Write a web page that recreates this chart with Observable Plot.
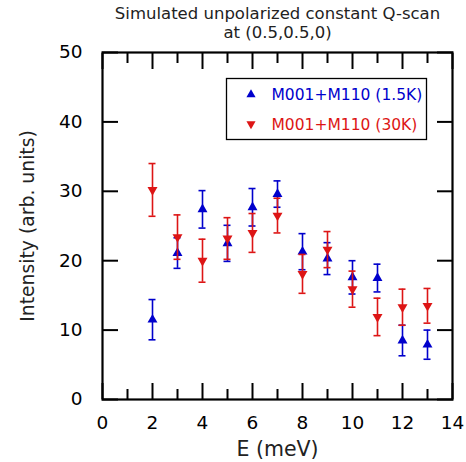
<!DOCTYPE html>
<html>
<head>
<meta charset="utf-8">
<script src="https://cdn.jsdelivr.net/npm/d3@7"></script>
<script src="https://cdn.jsdelivr.net/npm/@observablehq/plot@0.6"></script>
<style>
  html, body { margin: 0; padding: 0; background: #fff; }
  #chart svg { display: block; }
</style>
</head>
<body>
<div id="chart"></div>
<script>
// ---- data ----
const energy = [2, 3, 4, 5, 6, 7, 8, 9, 10, 11, 12, 13];
const seriesNames = ["M001+M110 (1.5K)", "M001+M110 (30K)"];
const intensity15K = [11.5, 21.1, 27.4, 22.5, 27.7, 29.6, 21.3, 20.3, 17.6, 17.5, 8.5, 7.9];
const error15K     = [2.9, 2.2, 2.7, 2.6, 2.7, 1.9, 2.6, 2.3, 2.4, 2.0, 2.2, 2.1];
const intensity30K = [30.2, 23.4, 20.0, 23.2, 24.0, 26.5, 18.1, 21.6, 15.9, 11.9, 13.3, 13.5];
const error30K     = [3.8, 3.2, 3.1, 3.0, 2.8, 2.5, 2.8, 2.6, 2.6, 2.7, 2.6, 2.5];
const xMajorTicks = [0, 2, 4, 6, 8, 10, 12, 14];
const xMinorTicks = [1, 3, 5, 7, 9, 11, 13];
const yTicks = [0, 10, 20, 30, 40, 50];
const titleLines = ["Simulated unpolarized constant Q-scan", "at (0.5,0.5,0)"];
const xLabel = "E (meV)";
const yLabel = "Intensity (arb. units)";
const colors = ["#0000cc", "#dd1515"];

// ---- table built from arrays ----
const rows = [
  ...energy.map((E, i) => ({E, v: intensity15K[i], e: error15K[i], series: seriesNames[0]})),
  ...energy.map((E, i) => ({E, v: intensity30K[i], e: error30K[i], series: seriesNames[1]}))
];
const capHalf = 0.14;
const caps = rows.flatMap(d => [
  {series: d.series, x1: d.E - capHalf, x2: d.E + capHalf, y: d.v + d.e},
  {series: d.series, x1: d.E - capHalf, x2: d.E + capHalf, y: d.v - d.e}
]);

const seriesMarks = (s, rotate) => [
  Plot.ruleX(rows.filter(d => d.series === s), {x: "E", y1: d => d.v - d.e, y2: d => d.v + d.e, stroke: "series", strokeWidth: 1.6}),
  Plot.ruleY(caps.filter(d => d.series === s), {y: "y", x1: "x1", x2: "x2", stroke: "series", strokeWidth: 1.6}),
  Plot.dot(rows.filter(d => d.series === s), {x: "E", y: "v", symbol: "triangle", r: 3.7, fill: "series", stroke: null, rotate})
];

const blank = () => "";

const chart = Plot.plot({
  width: 466,
  height: 462,
  marginLeft: 102,
  marginRight: 14,
  marginTop: 52,
  marginBottom: 63,
  style: {fontFamily: "DejaVu Sans, sans-serif", fontSize: "18.5px", color: "black", background: "white"},
  x: {domain: [0, 14], label: null},
  y: {domain: [0, 50], label: null},
  color: {domain: seriesNames, range: colors},
  marks: [
    // axes (inward ticks)
    Plot.axisX(xMajorTicks, {anchor: "bottom", tickSize: -16, tickPadding: 32, strokeWidth: 2, fontSize: 18.5, label: null}),
    Plot.axisX(xMinorTicks, {anchor: "bottom", tickSize: -10, tickFormat: blank, strokeWidth: 2, label: null}),
    Plot.axisX(xMajorTicks, {anchor: "top", tickSize: -16, tickFormat: blank, strokeWidth: 2, label: null}),
    Plot.axisX(xMinorTicks, {anchor: "top", tickSize: -10, tickFormat: blank, strokeWidth: 2, label: null}),
    Plot.axisY(yTicks, {anchor: "left", tickSize: -16, tickPadding: 36, strokeWidth: 2, fontSize: 18.5, label: null}),
    Plot.axisY(yTicks, {anchor: "right", tickSize: -16, tickFormat: blank, strokeWidth: 2, label: null}),
    Plot.frame({stroke: "black", strokeWidth: 2.2}),
    // data
    ...seriesMarks(seriesNames[0], 0),
    ...seriesMarks(seriesNames[1], 180),
    // legend
    Plot.frame({insetLeft: 124, insetRight: 26, insetTop: 26, insetBottom: 260, stroke: "black", strokeWidth: 1.3, fill: "white"}),
    Plot.dot([seriesNames[0]], {frameAnchor: "top-left", dx: 148.5, dy: 42, symbol: "triangle", r: 3.4, fill: colors[0], stroke: null}),
    Plot.dot([seriesNames[1]], {frameAnchor: "top-left", dx: 148.5, dy: 71.5, symbol: "triangle", r: 3.4, fill: colors[1], stroke: null, rotate: 180}),
    Plot.text([seriesNames[0]], {frameAnchor: "top-left", text: d => d, dx: 169, dy: 43, textAnchor: "start", lineAnchor: "middle", fill: colors[0], fontSize: 15.5}),
    Plot.text([seriesNames[1]], {frameAnchor: "top-left", text: d => d, dx: 169, dy: 73, textAnchor: "start", lineAnchor: "middle", fill: colors[1], fontSize: 15.5}),
    // titles / labels
    Plot.text([titleLines[0]], {frameAnchor: "top", text: d => d, textAnchor: "middle", lineAnchor: "bottom", dy: -34, fontSize: 16.5, fill: "#222"}),
    Plot.text([titleLines[1]], {frameAnchor: "top", text: d => d, textAnchor: "middle", lineAnchor: "bottom", dy: -15, fontSize: 16.5, fill: "#222"}),
    Plot.text([xLabel], {frameAnchor: "bottom", text: d => d, textAnchor: "middle", lineAnchor: "bottom", dy: 56, fontSize: 20.5, fill: "#222"}),
    Plot.text([yLabel], {frameAnchor: "left", text: d => d, textAnchor: "middle", lineAnchor: "bottom", rotate: -90, dx: -68.5, fontSize: 18.8, fill: "#222"})
  ]
});
document.getElementById("chart").appendChild(chart);
</script>
</body>
</html>
